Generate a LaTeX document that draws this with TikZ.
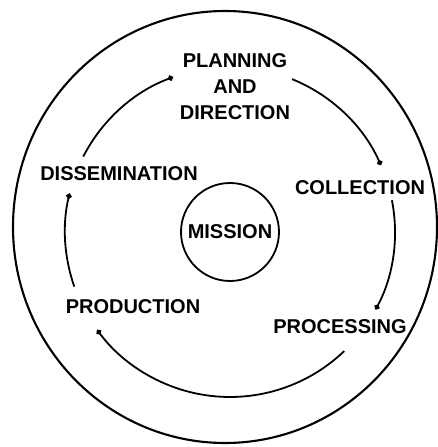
\documentclass[tikz,border=0pt]{standalone}
\usepackage{fontspec}
\setmainfont{Liberation Sans}
\usetikzlibrary{arrows.meta}
\tikzset{
  ring/.style = {line width=2.1pt},
  cyc/.style = {line width=1.8pt,-{Circle[length=5.5pt]}},
  lab/.style = {font=\fontsize{20}{26}\selectfont\bfseries,inner sep=0pt,align=center},
  core/.style = {draw,circle,line width=1.8pt,minimum size=98pt,inner sep=0pt,font=\fontsize{20}{24}\selectfont\bfseries}
}
\newlength{\cycr}
\setlength{\cycr}{165pt}

\begin{document}
\begin{tikzpicture}[x=1pt,y=1pt]
\useasboundingbox (-230,-215) rectangle (207,232);
\node[core] (m) at (0,0) {MISSION};

\draw[ring] (-5,5) ellipse [x radius=212, y radius=216];

\node[lab] (plan) at (5,145) {PLANNING\\AND\\DIRECTION};
\node[lab] (coll) at (130,44) {COLLECTION};
\node[lab] (proc) at (110,-95) {PROCESSING};
\node[lab] (prod) at (-97,-75) {PRODUCTION};
\node[lab] (diss) at (-111,58) {DISSEMINATION};

% cycle arcs, clockwise
\foreach \a/\b in {152.8/110.2, 67.9/23.9, 11.1/-28, -46.2/-143.6, -160.7/-193.5}
  \draw[cyc] (m.center) ++(\a:\cycr) arc[start angle=\a, end angle=\b, radius=\cycr];
\end{tikzpicture}
\end{document}
